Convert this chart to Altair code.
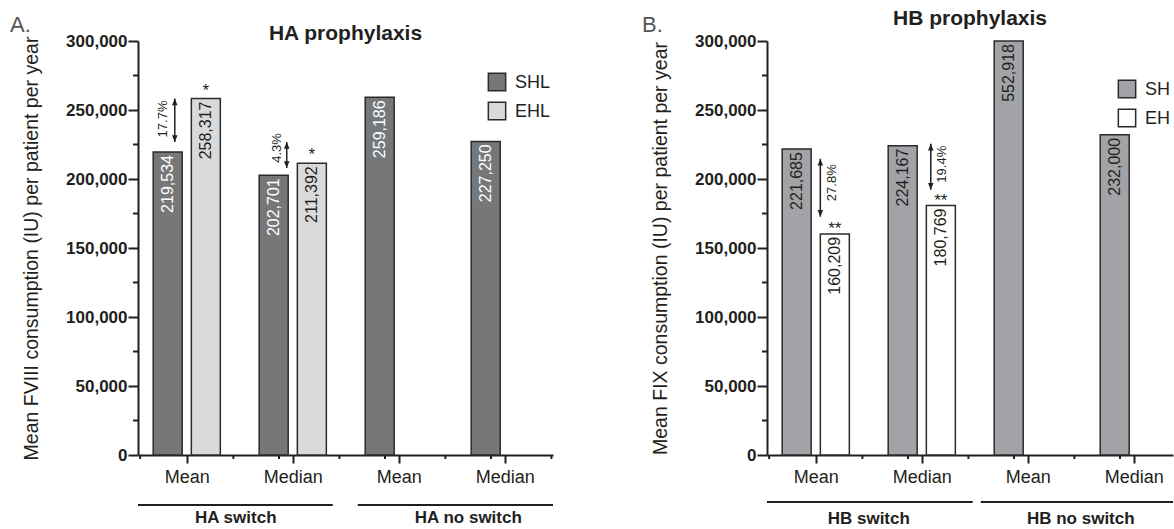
import json
import altair as alt
import pandas as pd

FONT = "Liberation Sans"
INK = "#231f20"
EDGE = "#2b2b2b"

# ---------------- data ----------------
STATS = ["Mean", "Median", "Mean", "Median"]
SERIES = ["SHL", "EHL"]

HA_SHL = [219534, 202701, 259186, 227250]
HA_EHL = [258317, 211392, None, None]
HB_SHL = [221685, 224167, 552918, 232000]
HB_EHL = [160209, 180769, None, None]

HA_GROUPS = ["HA switch", "HA no switch"]
HB_GROUPS = ["HB switch", "HB no switch"]

HA_PCT = ["17.7%", "4.3%"]
HB_PCT = ["27.8%", "19.4%"]
HA_SIG = ["*", "*"]
HB_SIG = ["**", "**"]

# arrow ends and % label heights (IU)
HA_ARROW_HI = [258317, 226800]
HA_ARROW_LO = [226800, 208000]
HB_ARROW_HI = [214700, 225600]
HB_ARROW_LO = [172700, 192300]
HA_PCT_AT = [243500, 222500]
HB_PCT_AT = [197300, 210700]

# axis ticks
Y_MAJOR = [0, 50000, 100000, 150000, 200000, 250000, 300000]
Y_MINOR = [25000, 75000, 125000, 175000, 225000, 275000]
X_MINOR = [-0.44, 0.44, 0.87, 1.44, 1.87, 2.44, 2.87, 3.44]

# ---------------- layout / style ----------------
H = 414
SHIFT = 0.18
UP = "M0,0L-0.45,1.1L0.45,1.1Z"
DOWN = "M0,0L-0.45,-1.1L0.45,-1.1Z"

STYLE_A = dict(
    width=415, domain=[-0.46, 3.455],
    colors=["#767779", "#d9dadc"], shl_label="#ffffff",
    arrow_dx=[-0.113, -0.057], pct_dx=[-0.226, -0.151],
    spans=[(-0.46, 1.377), (1.613, 3.455)], centers=[0.462, 2.656],
    rule_y=H + 50, group_y=H + 68, title_y=-1, letter_x=-128, letter_y=-9,
    legend_x=350, legend_y=[41, 70], legend_limit=200, star_dy=-3,
)
STYLE_B = dict(
    width=406, domain=[-0.46, 3.37],
    colors=["#a2a3a6", "#ffffff"], shl_label=INK,
    arrow_dx=[0.043, 0.085], pct_dx=[0.151, 0.189],
    spans=[(-0.46, 1.481), (1.557, 3.37)], centers=[0.5, 2.5],
    rule_y=H + 47, group_y=H + 69, title_y=-16, letter_x=-125, letter_y=-9,
    legend_x=351, legend_y=[48, 77], legend_limit=28, star_dy=0,
)


def panel(letter, title, ytitle, shl, ehl, groups, pct, sig, hi, lo, pct_at, st):
    W = st["width"]
    xscale = alt.Scale(domain=st["domain"], nice=False, zero=False, padding=0)
    yscale = alt.Scale(domain=[0, 300000], nice=False, clamp=True)

    x_axis = alt.Axis(
        values=list(range(len(STATS))),
        labelExpr=f"{json.dumps(STATS)}[datum.value]",
        tickSize=8, labelPadding=5, labelFontSize=18, labelFontWeight="normal",
        labelOverlap=False, labelFlush=False, title=None, labelColor=INK,
    )
    y_axis = alt.Axis(
        values=Y_MAJOR, format=",d", tickSize=10,
        labelPadding=1, labelFontSize=17, labelFontWeight="bold", labelOverlap=False,
        title=ytitle, titleFontSize=19.5, titleFontWeight="normal", titlePadding=24,
        labelColor=INK, titleColor=INK,
    )

    rows = []
    for i, stat in enumerate(STATS):
        for s, vals in zip(SERIES, (shl, ehl)):
            v = vals[i]
            if v is None:
                continue
            rows.append({"idx": i, "stat": stat, "series": s, "value": v, "label": f"{v:,}"})
    base = alt.Chart(pd.DataFrame(rows)).transform_calculate(
        xpos=f"datum.idx + (datum.series === 'SHL' ? {-SHIFT} : {SHIFT})"
    )

    bars = base.mark_bar(size=29, stroke=EDGE, strokeWidth=1.5, orient="vertical", opacity=1).encode(
        x=alt.X("xpos:Q", scale=xscale, axis=x_axis),
        y=alt.Y("value:Q", scale=yscale, axis=y_axis),
        color=alt.Color("series:N", scale=alt.Scale(domain=SERIES, range=st["colors"]), legend=None),
    )
    labels = base.mark_text(angle=270, align="right", baseline="middle", dx=-3, font=FONT, fontSize=16).encode(
        x=alt.X("xpos:Q", scale=xscale, axis=x_axis),
        y=alt.Y("value:Q", scale=yscale, axis=y_axis),
        text="label:N",
        color=alt.condition("datum.series === 'SHL'", alt.value(st["shl_label"]), alt.value(INK)),
    )

    ann = pd.DataFrame({
        "idx": list(range(len(pct))), "pct": pct, "sig": sig, "hi": hi, "lo": lo, "pct_at": pct_at,
        "ehl": [ehl[i] for i in range(len(pct))],
        "adx": st["arrow_dx"], "pdx": st["pct_dx"],
    })
    abase = alt.Chart(ann).transform_calculate(
        ax="datum.idx + datum.adx", px="datum.idx + datum.pdx", sx=f"datum.idx + {SHIFT}"
    )
    stars = abase.mark_text(baseline="alphabetic", dy=st["star_dy"], font=FONT, fontSize=17, color=INK).encode(
        x=alt.X("sx:Q", scale=xscale, axis=x_axis), y=alt.Y("ehl:Q", scale=yscale, axis=y_axis), text="sig:N"
    )
    shaft = abase.mark_rule(strokeWidth=1.5, color=INK).encode(
        x=alt.X("ax:Q", scale=xscale, axis=x_axis), y=alt.Y("hi:Q", scale=yscale, axis=y_axis), y2="lo:Q"
    )
    head_up = abase.mark_point(shape=UP, filled=True, size=150, color=INK, opacity=1).encode(
        x=alt.X("ax:Q", scale=xscale, axis=x_axis), y=alt.Y("hi:Q", scale=yscale, axis=y_axis)
    )
    head_dn = abase.mark_point(shape=DOWN, filled=True, size=150, color=INK, opacity=1).encode(
        x=alt.X("ax:Q", scale=xscale, axis=x_axis), y=alt.Y("lo:Q", scale=yscale, axis=y_axis)
    )
    pct_txt = abase.mark_text(angle=270, align="center", baseline="middle", font=FONT, fontSize=13, color=INK).encode(
        x=alt.X("px:Q", scale=xscale, axis=x_axis), y=alt.Y("pct_at:Q", scale=yscale, axis=y_axis), text="pct:N"
    )

    # minor ticks (GraphPad style)
    y_minor = alt.Chart(pd.DataFrame({"v": Y_MINOR})).mark_rule(strokeWidth=2, color=INK).encode(
        y=alt.Y("v:Q", scale=yscale, axis=y_axis), x=alt.value(-5), x2=alt.value(0)
    )
    xm = [v for v in X_MINOR if st["domain"][0] <= v <= st["domain"][1]]
    x_minor = alt.Chart(pd.DataFrame({"v": xm})).mark_rule(strokeWidth=2, color=INK).encode(
        x=alt.X("v:Q", scale=xscale, axis=x_axis), y=alt.value(H), y2=alt.value(H + 4)
    )

    gdf = pd.DataFrame({
        "group": groups, "start": [s[0] for s in st["spans"]], "end": [s[1] for s in st["spans"]],
        "center": st["centers"],
    })
    g_rule = alt.Chart(gdf).mark_rule(strokeWidth=2, color=INK).encode(
        x=alt.X("start:Q", scale=xscale, axis=x_axis), x2="end:Q", y=alt.value(st["rule_y"])
    )
    g_text = alt.Chart(gdf).mark_text(font=FONT, fontSize=17, fontWeight="bold", color=INK, baseline="alphabetic").encode(
        x=alt.X("center:Q", scale=xscale, axis=x_axis), y=alt.value(st["group_y"]), text="group:N"
    )
    t = alt.Chart(pd.DataFrame({"t": [title]})).mark_text(
        font=FONT, fontSize=21, fontWeight="bold", color=INK, baseline="alphabetic", align="center"
    ).encode(text="t:N", x=alt.value(W / 2), y=alt.value(st["title_y"]))
    let = alt.Chart(pd.DataFrame({"t": [letter]})).mark_text(
        font=FONT, fontSize=22, color="#555555", baseline="alphabetic", align="left"
    ).encode(text="t:N", x=alt.value(st["letter_x"]), y=alt.value(st["letter_y"]))

    # legend (drawn as marks so that it can run to the picture's edge)
    leg = []
    for k, s in enumerate(SERIES):
        d = pd.DataFrame({"s": [s]})
        leg.append(alt.Chart(d).mark_point(
            shape="square", size=300, filled=True, fill=st["colors"][k], stroke=EDGE,
            strokeWidth=1.5, opacity=1
        ).encode(x=alt.value(st["legend_x"] + 9), y=alt.value(st["legend_y"][k])))
        leg.append(alt.Chart(d).mark_text(
            font=FONT, fontSize=18, color=INK, align="left", baseline="middle",
            limit=st["legend_limit"], ellipsis="\u200b"
        ).encode(text="s:N", x=alt.value(st["legend_x"] + 27), y=alt.value(st["legend_y"][k] + 1)))

    return alt.layer(
        bars, labels, stars, shaft, head_up, head_dn, pct_txt, y_minor, x_minor,
        g_rule, g_text, t, let, *leg
    ).properties(width=W, height=H)


A = panel("A.", "HA prophylaxis", "Mean FVIII consumption (IU) per patient per year",
          HA_SHL, HA_EHL, HA_GROUPS, HA_PCT, HA_SIG, HA_ARROW_HI, HA_ARROW_LO, HA_PCT_AT, STYLE_A)
B = panel("B.", "HB prophylaxis", "Mean FIX consumption (IU) per patient per year",
          HB_SHL, HB_EHL, HB_GROUPS, HB_PCT, HB_SIG, HB_ARROW_HI, HB_ARROW_LO, HB_PCT_AT, STYLE_B)

chart = (
    alt.hconcat(A, B, spacing=214, bounds="flush")
    .resolve_scale(color="independent", x="independent", y="independent")
    .properties(padding={"left": 10, "top": 8, "right": 0, "bottom": 0}, background="white")
    .configure_view(stroke=None)
    .configure_axis(
        grid=False, domainColor=INK, domainWidth=2, tickColor=INK, tickWidth=2,
        labelFont=FONT, titleFont=FONT,
    )
)

chart.save("out.html", embed_options={"renderer": "svg", "actions": False})
